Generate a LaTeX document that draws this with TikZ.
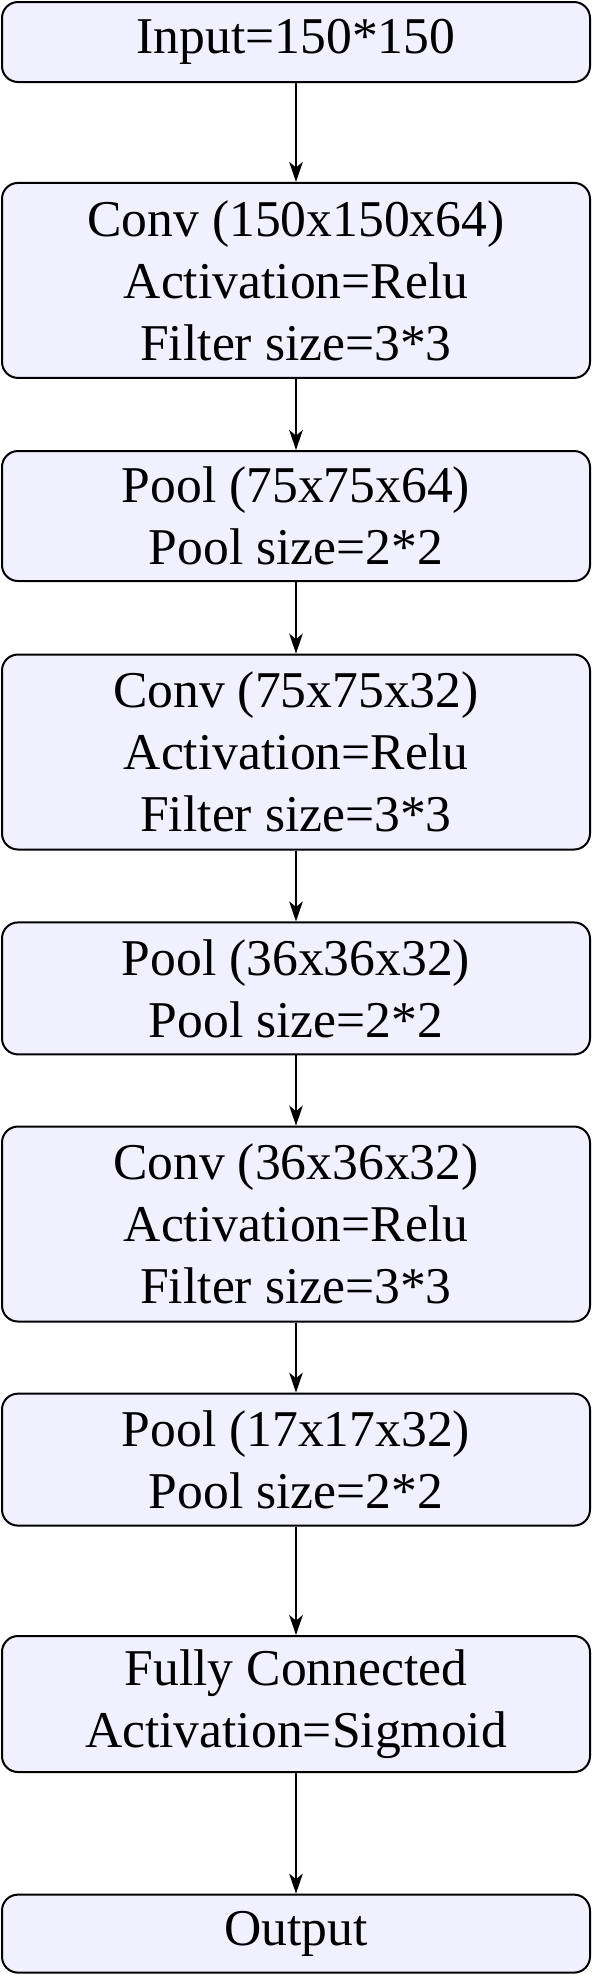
\documentclass[tikz,border=0pt]{standalone}
\usepackage{fontspec}
\setmainfont{Liberation Serif}
\usetikzlibrary{arrows.meta}
\tikzset{
  layer/.style={draw, line width=0.5pt, rounded corners=4pt, fill=blue!6,
    minimum width=147pt, inner sep=0pt, align=center,
    font=\fontsize{12.9}{15.5}\selectfont},
  flow/.style={line width=0.4pt, -{Stealth[length=5pt, width=3.4pt, inset=1.4pt]}},
}
\begin{document}
\begin{tikzpicture}[x=1pt, y=1pt]
  \useasboundingbox (0,0) rectangle (148.25,-493.5);

  \node[layer, minimum height=20pt]    (input) at (74,-10.5)   {Input=150*150};
  \node[layer, minimum height=48.75pt] (conv1) at (74,-70.1)   {Conv (150x150x64)\\Activation=Relu\\Filter size=3*3};
  \node[layer, minimum height=32.5pt]  (pool1) at (74,-129)    {Pool (75x75x64)\\Pool size=2*2};
  \node[layer, minimum height=48.75pt] (conv2) at (74,-188)    {Conv (75x75x32)\\Activation=Relu\\Filter size=3*3};
  \node[layer, minimum height=33pt]    (pool2) at (74,-247.1)  {Pool (36x36x32)\\Pool size=2*2};
  \node[layer, minimum height=48.75pt] (conv3) at (74,-306)    {Conv (36x36x32)\\Activation=Relu\\Filter size=3*3};
  \node[layer, minimum height=33pt]    (pool3) at (74,-364.9)  {Pool (17x17x32)\\Pool size=2*2};
  \node[layer, minimum height=34pt]    (fc)    at (74,-426)    {Fully Connected\\Activation=Sigmoid};
  \node[layer, minimum height=19.5pt]  (output) at (74,-483.4) {Output};

  % arrows between the layers
  \foreach \a/\b in {input/conv1, conv1/pool1, pool1/conv2, conv2/pool2,
                     pool2/conv3, conv3/pool3, pool3/fc, fc/output}
    \draw[flow] (\a) -- (\b);

\end{tikzpicture}
\end{document}
